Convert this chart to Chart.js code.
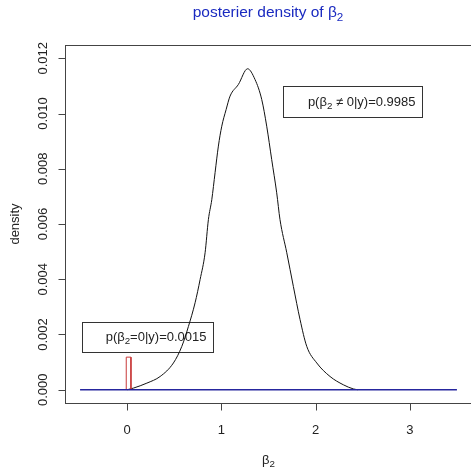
<!DOCTYPE html>
<html>
<head>
<meta charset="utf-8">
<script src="https://cdn.jsdelivr.net/npm/chart.js@4/dist/chart.umd.min.js"></script>
<style>
  html, body { margin: 0; padding: 0; background: #fff; overflow: hidden; }
  canvas { display: block; }
</style>
</head>
<body>
<canvas id="c" width="480" height="467"></canvas>
<script>
// posterior density curve
const betaX = [0, 0.067, 0.209, 0.35, 0.491, 0.58, 0.65, 0.721, 0.774, 0.827, 0.862, 0.898, 0.933, 0.968,
  1.004, 1.05, 1.092, 1.18, 1.278, 1.357, 1.428, 1.481, 1.534, 1.587, 1.622, 1.694, 1.764, 1.835, 1.906,
  2.012, 2.153, 2.294, 2.4, 2.45];
const densityY = [0, 0.00006, 0.00024, 0.00048, 0.00097, 0.00157, 0.00229, 0.00315, 0.00399, 0.00496,
  0.00616, 0.00688, 0.00786, 0.00882, 0.00954, 0.01014, 0.01063, 0.01105, 0.01162, 0.01123, 0.01051,
  0.00954, 0.00833, 0.00713, 0.00616, 0.00496, 0.00374, 0.00254, 0.00157, 0.00097, 0.00048, 0.00018,
  0.00003, 0];

// zero line and point mass at 0
const baseX = [-0.5, 3.5];
const baseY = [0, 0];
const spikeX = [-0.01, -0.01, 0.04, 0.04];
const spikeY = [0, 0.00118, 0.00118, 0];

const xTicks = [0, 1, 2, 3];
const yTicks = [0, 0.002, 0.004, 0.006, 0.008, 0.010, 0.012];

const zip = (xs, ys) => xs.map((x, i) => ({ x: x, y: ys[i] }));

const FONT = '"Liberation Sans", Arial, sans-serif';

// text pieces, sub = subscript
function drawRich(ctx, parts, x, y, size, align, weight) {
  const w0 = weight ? weight + ' ' : '';
  let total = 0;
  const widths = parts.map(p => {
    ctx.font = w0 + (p.sub ? size * 0.75 : size) + 'px ' + FONT;
    const w = ctx.measureText(p.t).width;
    total += w;
    return w;
  });
  let cx = align === 'center' ? x - total / 2 : align === 'right' ? x - total : x;
  ctx.textAlign = 'left';
  ctx.textBaseline = 'middle';
  parts.forEach((p, i) => {
    ctx.font = w0 + (p.sub ? size * 0.75 : size) + 'px ' + FONT;
    ctx.fillText(p.t, cx, p.sub ? y + size * 0.3 : y);
    cx += widths[i];
  });
}

const legends = [
  { x0: -0.48, x1: 0.915, y0: 0.00247, y1: 0.00137,
    parts: [{ t: 'p(\u03b2' }, { t: '2', sub: true }, { t: '=0|y)=0.0015' }] },
  { x0: 1.657, x1: 3.13, y0: 0.0110, y1: 0.00986,
    parts: [{ t: 'p(\u03b2' }, { t: '2', sub: true }, { t: ' \u2260 0|y)=0.9985' }] }
];

const rStyle = {
  id: 'rStyle',
  beforeDatasetsDraw(chart) {
    // legend boxes sit under the curves, no fill
    const ctx = chart.ctx;
    const xs = chart.scales.x, ys = chart.scales.y;
    ctx.save();
    ctx.lineWidth = 1;
    legends.forEach(l => {
      const x0 = Math.round(xs.getPixelForValue(l.x0)) + 0.5;
      const x1 = Math.round(xs.getPixelForValue(l.x1)) + 0.5;
      const y0 = Math.round(ys.getPixelForValue(l.y0)) + 0.5;
      const y1 = Math.round(ys.getPixelForValue(l.y1)) + 0.5;
      ctx.strokeStyle = '#333';
      ctx.strokeRect(x0, y0, x1 - x0, y1 - y0);
      ctx.fillStyle = '#222';
      drawRich(ctx, l.parts, x1 - 7, (y0 + y1) / 2, 13, 'right');
    });
    ctx.restore();
  },
  afterDatasetsDraw(chart) {
    const ctx = chart.ctx;
    const a = chart.chartArea;
    const xs = chart.scales.x, ys = chart.scales.y;
    ctx.save();
    ctx.strokeStyle = '#444';
    ctx.fillStyle = '#222';
    ctx.lineWidth = 1;

    // box
    ctx.strokeRect(Math.round(a.left) + 0.5, Math.round(a.top) + 0.5,
      Math.round(a.right - a.left), Math.round(a.bottom - a.top));

    // x axis
    const xb = Math.round(a.bottom) + 0.5;
    ctx.beginPath();
    xTicks.forEach(v => {
      const px = Math.round(xs.getPixelForValue(v)) + 0.5;
      ctx.moveTo(px, xb);
      ctx.lineTo(px, xb + 7);
    });
    ctx.stroke();
    ctx.font = '13px ' + FONT;
    ctx.textAlign = 'center';
    ctx.textBaseline = 'middle';
    xTicks.forEach(v => ctx.fillText(String(v), xs.getPixelForValue(v), 430));

    // y axis
    const yl = Math.round(a.left) + 0.5;
    ctx.beginPath();
    yTicks.forEach(v => {
      const py = Math.round(ys.getPixelForValue(v)) + 0.5;
      ctx.moveTo(yl, py);
      ctx.lineTo(yl - 7, py);
    });
    ctx.stroke();
    yTicks.forEach(v => {
      ctx.save();
      ctx.translate(43, ys.getPixelForValue(v));
      ctx.rotate(-Math.PI / 2);
      ctx.fillText(v.toFixed(3), 0, 0);
      ctx.restore();
    });

    // axis titles
    ctx.save();
    ctx.translate(15, (a.top + a.bottom) / 2);
    ctx.rotate(-Math.PI / 2);
    ctx.fillText('density', 0, 0);
    ctx.restore();
    drawRich(ctx, [{ t: '\u03b2' }, { t: '2', sub: true }], (a.left + a.right) / 2, 460, 13, 'center');

    // main title
    ctx.fillStyle = '#1a2ac0';
    drawRich(ctx, [{ t: 'posterier density of \u03b2' }, { t: '2', sub: true }], 268, 13, 15.5, 'center');
    ctx.restore();
  }
};

new Chart(document.getElementById('c'), {
  type: 'line',
  data: {
    datasets: [
      { data: zip(baseX, baseY), borderColor: '#26269e', borderWidth: 1.3, pointRadius: 0, order: 0 },
      { data: zip(spikeX, spikeY), borderColor: '#c83a3a', borderWidth: 1, pointRadius: 0, order: 1 },
      { data: zip(betaX, densityY), borderColor: '#111', borderWidth: 1, pointRadius: 0,
        cubicInterpolationMode: 'monotone', order: 2 }
    ]
  },
  options: {
    responsive: false,
    animation: false,
    devicePixelRatio: 1,
    layout: { padding: { left: 65, top: 45, right: 8, bottom: 64 } },
    plugins: { legend: { display: false }, tooltip: { enabled: false } },
    scales: {
      x: { type: 'linear', min: -0.66, max: 3.66, display: false },
      y: { type: 'linear', min: -0.00048, max: 0.01248, display: false }
    }
  },
  plugins: [rStyle]
});
</script>
</body>
</html>
